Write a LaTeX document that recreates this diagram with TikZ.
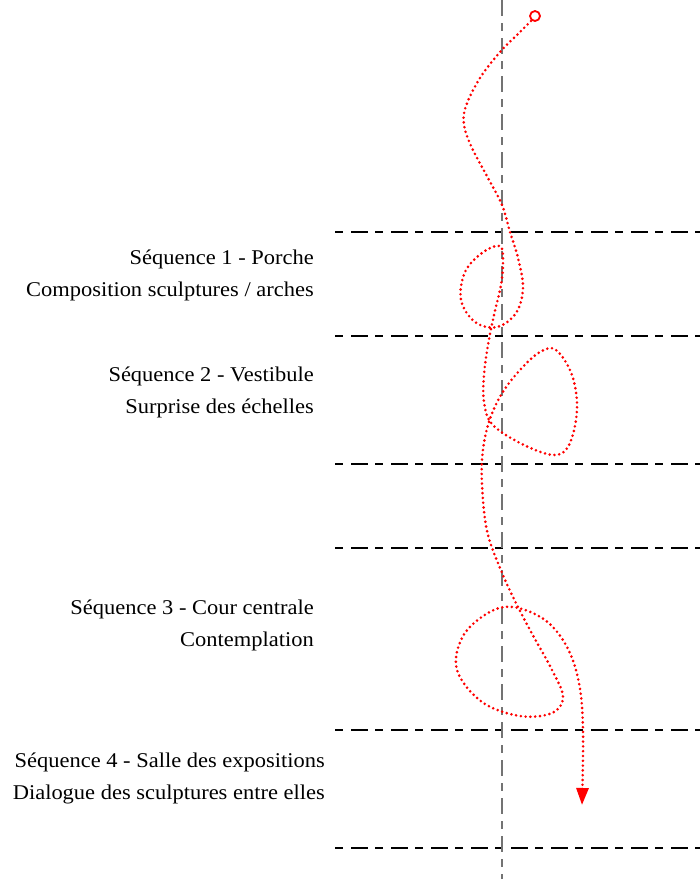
\documentclass[tikz,border=0pt]{standalone}
\usepackage{fontspec}
\setmainfont{Liberation Serif}[FakeStretch=1.07]
\usetikzlibrary{arrows.meta}
\begin{document}
\begin{tikzpicture}[x=1pt,y=-1pt,
  sepline/.style={line width=1.6pt,black,dash pattern=on 8pt off 8pt on 17pt off 7pt},
  axisline/.style={line width=1.2pt,black!55,dash pattern=on 16pt off 7pt on 8pt off 7pt},
  route/.style={red,line width=2.9pt,line cap=round,dash pattern=on 0pt off 4.8pt},
  lbl/.style={anchor=base east,font=\fontsize{21}{24}\selectfont,inner sep=0pt}]
\useasboundingbox (0,0) rectangle (700,879);
% horizontal separators
\foreach \y/\n in {232/a,336/b,464/c,548/d,730/e,848/f}{
  \coordinate (L\n) at (335,\y);
  \coordinate (R\n) at (700,\y);
  \draw[sepline] (L\n) -- (R\n);
}
% vertical axis
\coordinate (vtop) at (502,0);
\coordinate (vbot) at (502,879);
\draw[axisline] (vtop) -- (vbot);
% labels
\node[lbl] (s1a) at (314,264) {Séquence 1 - Porche};
\node[lbl] (s1b) at (314,296) {Composition sculptures / arches};
\node[lbl] (s2a) at (314,381) {Séquence 2 - Vestibule};
\node[lbl] (s2b) at (314,413) {Surprise des échelles};
\node[lbl] (s3a) at (314,614) {Séquence 3 - Cour centrale};
\node[lbl] (s3b) at (314,646) {Contemplation};
\node[lbl] (s4a) at (325,767) {Séquence 4 - Salle des expositions};
\node[lbl] (s4b) at (325,799) {Dialogue des sculptures entre elles};
% start circle
\node[draw=red,line width=1.8pt,circle,minimum size=10pt,inner sep=0pt] (start) at (535,16) {};
% route
\draw[route,-{Triangle[width=12pt,length=17pt,fill=red]}] plot[smooth,tension=0.6] coordinates {
 (531,21) (518,34) (500,52) (480,78) (466,106) (464,125) (472,148) (488,178)
 (502,205) (510,232) (518,258) (523,288) (516,313) (497,327) (475,322) (461,300)
 (465,272) (482,253) (500,246) (503,262) (501,285) (494,315) (488,345) (484,375)
 (484,402) (492,424) (520,443) (553,455) (569,445) (577,410) (572,375) (556,350)
 (540,352) (520,370) (501,395) (488,425) (482,460) (483,500) (488,535) (500,568)
 (513,597) (530,630) (552,670) (563,697) (552,713) (520,716) (482,702) (457,670)
 (463,636) (488,613) (513,607) (545,620) (567,647) (579,683) (583,730) (582,805)};
\end{tikzpicture}
\end{document}
